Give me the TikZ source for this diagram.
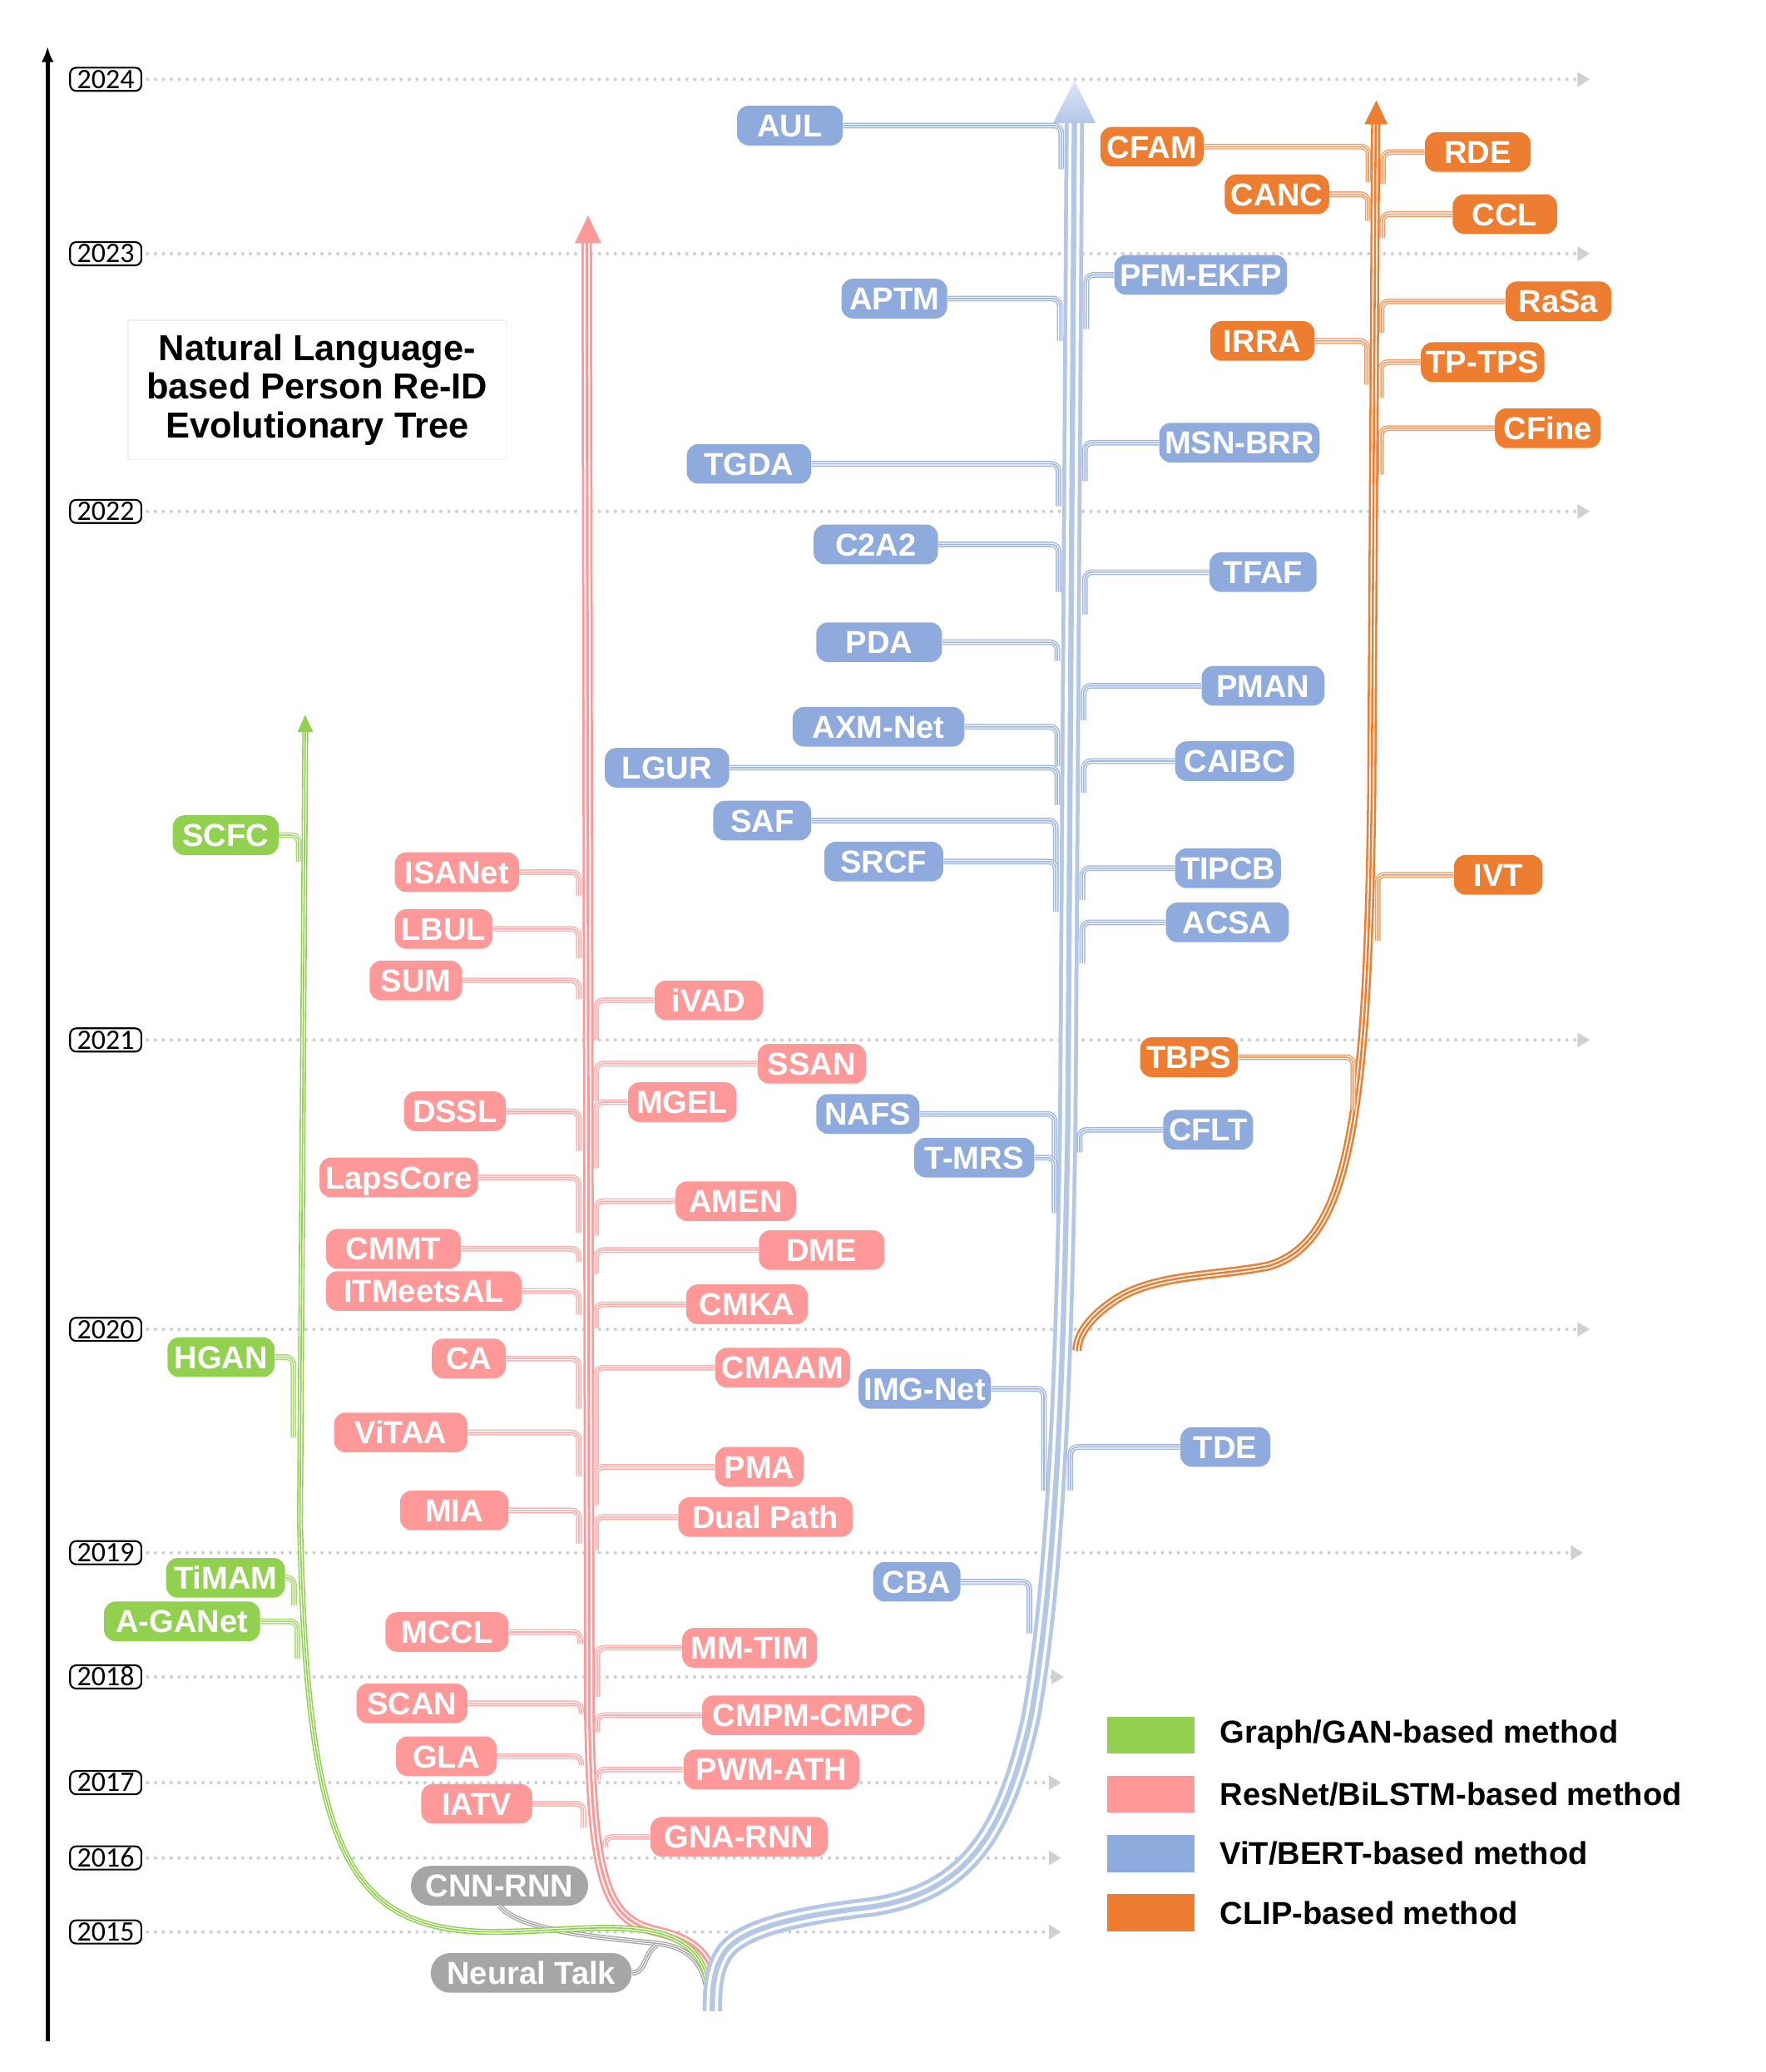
\documentclass[tikz,border=0pt]{standalone}
\usepackage{fontspec}
\setmainfont{Liberation Sans}
\newfontfamily\yearfont{Carlito}
\usetikzlibrary{arrows.meta,positioning}
\definecolor{BlueBox}{HTML}{8FAADC}
\definecolor{BlueTrunk}{HTML}{B4C7E7}
\definecolor{OrangeBox}{HTML}{ED7D31}
\definecolor{PinkBox}{HTML}{FF9999}
\definecolor{GreenBox}{HTML}{92D050}
\definecolor{GrayBox}{HTML}{A6A6A6}
\definecolor{DotGray}{HTML}{D0D0D0}
\definecolor{TitleRule}{HTML}{EFEFEF}
\tikzset{
  method/.style={
    rounded corners=6.5pt, minimum height=22.5pt, inner xsep=3pt, inner ysep=0pt,
    text=white, text height=12.9pt, text depth=0pt, font=\fontsize{18}{20}\selectfont\bfseries
  },
  vitnode/.style={method, fill=BlueBox},
  clipnode/.style={method, fill=OrangeBox},
  resnode/.style={method, fill=PinkBox},
  gannode/.style={method, fill=GreenBox},
  rnnnode/.style={method, fill=GrayBox, rounded corners=11pt},
  pipe/.style n args={4}{
    draw=#1, line width=#4,
    preaction={draw=#1, line width=#2}, preaction={draw=white, line width=#3}
  },
  branch/.style={pipe={#1}{3.2pt}{1.8pt}{0.8pt}, rounded corners=4pt},
  yearbox/.style={
    draw=black, line width=1pt, rounded corners=3.5pt, fill=white,
    inner xsep=4pt, inner ysep=1.5pt, text height=10.2pt, text depth=0pt,
    font=\yearfont\fontsize{16}{16}\selectfont
  },
  yearline/.style={
    draw=DotGray, line width=2pt, line cap=round, dash pattern=on 0pt off 4.5pt,
    shorten <=3pt, -{Triangle[length=7pt,width=8pt]}
  },
  legbox/.style={minimum width=49.5pt, minimum height=21pt, inner sep=0pt},
  legtext/.style={font=\fontsize{18}{20}\selectfont\bfseries, inner sep=0pt},
  axisline/.style={line width=2.2pt, -{Latex[length=9pt,width=7pt]}}
}
\begin{document}
\begin{tikzpicture}[x=0.75pt,y=-0.75pt]
  \useasboundingbox (0,0) rectangle (1336,1568);

  % time axis
  \draw[axisline] (36,1545) -- (36,35);
  \foreach \yr/\y/\e in {2024/60/1203, 2023/192/1203, 2022/387/1203, 2021/787/1203,
      2020/1006/1203, 2019/1175/1198, 2018/1269/805, 2017/1349/803, 2016/1406/803, 2015/1462/803}{
    \node[yearbox] (y\yr) at (80,\y) {\yr};
    \coordinate (end\yr) at (\e,\y);
    \draw[yearline] (y\yr.east) -- (end\yr);
  }

  \node[draw=TitleRule, line width=0.6pt, minimum width=214.5pt, minimum height=79pt,
    align=center, font=\fontsize{20.5}{22}\selectfont\bfseries] (title) at (240,295)
    {Natural Language-\\based Person Re-ID\\Evolutionary Tree};

  % early CNN-RNN roots
  \node[rnnnode, minimum width={134*0.75pt}] (cnnrnn) at (378,1427) {CNN-RNN};
  \node[rnnnode, minimum width={152*0.75pt}] (neuraltalk) at (402,1493) {Neural Talk};
  \coordinate (root) at (536,1521);
  \coordinate (ntjoin) at (497,1472);
  \draw[pipe={GrayBox}{3pt}{1.7pt}{0.7pt}] (cnnrnn.south) .. controls (395,1462) and (455,1466) .. (500,1471)
    .. controls (527,1475) and (536,1492) .. (root);
  \draw[pipe={GrayBox}{3pt}{1.7pt}{0.7pt}] (neuraltalk.east) .. controls (489,1493) and (487,1478) .. (ntjoin);

  % trunks
  \draw[pipe={PinkBox}{6pt}{3.4pt}{1.5pt}] (444,183) -- (446,1300) .. controls (448,1420) and (458,1452) .. (495,1461)
    .. controls (530,1469) and (542,1482) .. (542,1522);
  \fill[PinkBox] (435,184) -- (455,184) -- (445,163) -- cycle;
  \draw[pipe={GreenBox}{3.4pt}{1.9pt}{0.8pt}] (231,553) -- (227,1150) .. controls (232,1400) and (262,1460) .. (370,1462)
    .. controls (430,1462) and (480,1452) .. (512,1468) .. controls (532,1478) and (537,1495) .. (537,1520);
  \fill[GreenBox] (225,554) -- (237,554) -- (231,541) -- cycle;
  \draw[pipe={BlueTrunk}{11pt}{6.5pt}{3pt}] (813,93) -- (808,850) .. controls (805,1050) and (798,1200) .. (780,1300)
    .. controls (760,1390) and (730,1432) .. (660,1443) .. controls (600,1450) and (560,1460) .. (548,1478)
    .. controls (540,1490) and (539,1505) .. (539,1522);
  \shade[top color=BlueTrunk!45!white, bottom color=BlueTrunk] (797,93) -- (829,93) -- (813,61) -- cycle;
  \draw[pipe={OrangeBox}{5.2pt}{2.8pt}{1.2pt}, line cap=round] (1041,93) -- (1038,600) .. controls (1035,850) and (1020,940) .. (960,958)
    .. controls (920,966) and (875,964) .. (845,983) .. controls (822,998) and (815,1012) .. (815,1022);
  \fill[OrangeBox] (1032.5,94) -- (1050,94) -- (1041.5,76) -- cycle;

  % ViT/BERT-based methods
  \foreach \n/\x/\y/\w/\lbl/\jx/\dr in {AUL/638/95/80/AUL/803/33, APTM/717/226/80/APTM/802/32,
      TGDA/614/351/94/TGDA/801/32, C2A2/710/412/94/C2A2/801/36, PDA/713/486/95/PDA/800/14,
      AXMNet/730/550/130/AXM-Net/800/30, LGUR/552/581/94/LGUR/800/28, SAF/614/621/74/SAF/799/36,
      SRCF/714/652/90/SRCF/799/38, NAFS/696/843/78/NAFS/798/74, TMRS/783/876/91/T-MRS/798/42,
      IMGNet/750/1051/100/IMG-Net/790/77, CBA/727/1197/66/CBA/779/39}{
    \node[vitnode, anchor=east, minimum width={\w*0.75pt}] (\n) at (\x,\y) {\lbl};
    \coordinate (j) at (\jx,0);
    \draw[branch=BlueBox!85!white] (\n.east) -- (\n.east -| j) -- ++(0,\dr);
  }
  \foreach \n/\x/\y/\w/\lbl/\jx/\dr in {PFMEKFP/843/208/130/PFM-EKFP/822/41, MSNBRR/877/335/118/MSN-BRR/821/29,
      TFAF/915/433/81/TFAF/821/32, PMAN/909/519/93/PMAN/820/26, CAIBC/889/576/90/CAIBC/820/24,
      TIPCB/889/657/80/TIPCB/819/24, ACSA/882/698/93/ACSA/819/31, CFLT/880/855/68/CFLT/817/17,
      TDE/893/1095/68/TDE/810/33}{
    \node[vitnode, anchor=west, minimum width={\w*0.75pt}] (\n) at (\x,\y) {\lbl};
    \coordinate (j) at (\jx,0);
    \draw[branch=BlueBox!85!white] (\n.west) -- (\n.west -| j) -- ++(0,\dr);
  }

  % CLIP-based methods
  \foreach \n/\x/\y/\w/\lbl/\jx/\dr in {CFAM/911/111/78/CFAM/1035.5/27, CANC/1006/147/79/CANC/1035/20,
      IRRA/995/258/79/IRRA/1034.5/33, TBPS/937/800/74/TBPS/1024/40}{
    \node[clipnode, anchor=east, minimum width={\w*0.75pt}] (\n) at (\x,\y) {\lbl};
    \coordinate (j) at (\jx,0);
    \draw[branch=OrangeBox!75!white] (\n.east) -- (\n.east -| j) -- ++(0,\dr);
  }
  \foreach \n/\x/\y/\w/\lbl/\jx/\dr in {RDE/1078/115/80/RDE/1046.5/24, CCL/1099/162/79/CCL/1046/18,
      RaSa/1139/228/80/RaSa/1045.5/24, TPTPS/1075/274/91/TP-TPS/1045/27,
      CFine/1131/324/80/CFine/1045/35, IVT/1100/662/67/IVT/1042.5/50}{
    \node[clipnode, anchor=west, minimum width={\w*0.75pt}] (\n) at (\x,\y) {\lbl};
    \coordinate (j) at (\jx,0);
    \draw[branch=OrangeBox!75!white] (\n.west) -- (\n.west -| j) -- ++(0,\dr);
  }

  % ResNet/BiLSTM-based methods
  \foreach \n/\x/\y/\w/\lbl/\jx/\dr in {ISANet/393/660/94/ISANet/438/18, LBUL/373/703/74/LBUL/438/22,
      SUM/350/742/70/SUM/438/14, DSSL/383/841/77/DSSL/438/30, LapsCore/362/891/120/LapsCore/438/42,
      CMMT/349/945/102/CMMT/438/10, ITMeetsAL/395/977/148/ITMeetsAL/438/18, CA/383/1028/56/CA/438/38,
      ViTAA/354/1084/101/ViTAA/438/33, MIA/385/1143/82/MIA/438/25, MCCL/385/1235/93/MCCL/439/9,
      SCAN/354/1289/84/SCAN/440/8, GLA/376/1329/76/GLA/440/7, IATV/403/1365/84/IATV/441.5/18}{
    \node[resnode, anchor=east, minimum width={\w*0.75pt}] (\n) at (\x,\y) {\lbl};
    \coordinate (j) at (\jx,0);
    \draw[branch=PinkBox!80!white] (\n.east) -- (\n.east -| j) -- ++(0,\dr);
  }
  \foreach \n/\x/\y/\w/\lbl/\jx/\dr in {iVAD/495/757/82/iVAD/451/30, SSAN/573/805/82/SSAN/451/28,
      MGEL/475/834/82/MGEL/451/50, AMEN/511/909/91/AMEN/451/26, DME/574/946/95/DME/451/18,
      CMKA/519/987/92/CMKA/451/18, CMAAM/541/1035/102/CMAAM/451/95, PMA/541/1110/67/PMA/451/29,
      DualPath/513/1148/132/Dual Path/451/25, MMTIM/516/1247/102/MM-TIM/452/37,
      CMPMCMPC/531/1298/168/CMPM-CMPC/452/13, PWMATH/517/1339/133/PWM-ATH/452.5/8,
      GNARNN/492/1390/134/GNA-RNN/458/8}{
    \node[resnode, anchor=west, minimum width={\w*0.75pt}] (\n) at (\x,\y) {\lbl};
    \coordinate (j) at (\jx,0);
    \draw[branch=PinkBox!80!white] (\n.west) -- (\n.west -| j) -- ++(0,\dr);
  }

  % Graph/GAN-based methods
  \foreach \n/\x/\y/\w/\lbl/\jx/\dr in {SCFC/211/632/80/SCFC/226/20, HGAN/208/1027/81/HGAN/222/61,
      TiMAM/216/1194/90/TiMAM/222.5/21, AGANet/197/1227/118/A-GANet/225/28}{
    \node[gannode, anchor=east, minimum width={\w*0.75pt}] (\n) at (\x,\y) {\lbl};
    \coordinate (j) at (\jx,0);
    \draw[branch=GreenBox!80!white] (\n.east) -- (\n.east -| j) -- ++(0,\dr);
  }

  % legend
  \node[legbox, fill=GreenBox] (lgan) at (871,1313) {};
  \node[legbox, fill=PinkBox, below=12.2pt of lgan] (lres) {};
  \node[legbox, fill=BlueBox, below=12.2pt of lres] (lvit) {};
  \node[legbox, fill=OrangeBox, below=12.2pt of lvit] (lclip) {};
  \node[legtext, right=14pt of lgan] (tgan) {Graph/GAN-based method};
  \node[legtext, right=14pt of lres] (tres) {ResNet/BiLSTM-based method};
  \node[legtext, right=14pt of lvit] (tvit) {ViT/BERT-based method};
  \node[legtext, right=14pt of lclip] (tclip) {CLIP-based method};
\end{tikzpicture}
\end{document}
